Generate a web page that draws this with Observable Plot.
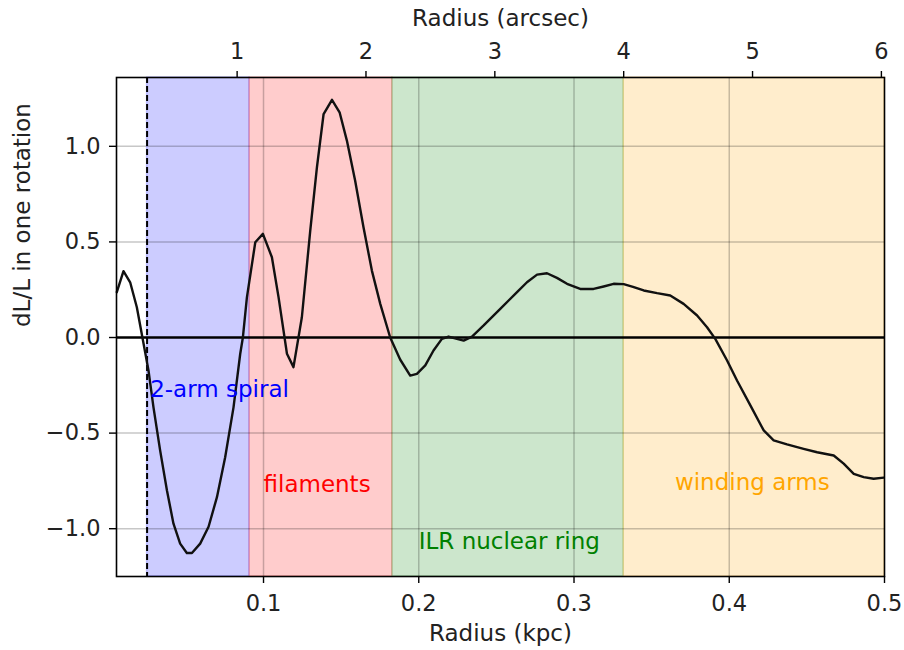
<!DOCTYPE html>
<html>
<head>
<meta charset="utf-8">
<script src="https://cdn.jsdelivr.net/npm/d3@7"></script>
<script src="https://cdn.jsdelivr.net/npm/@observablehq/plot@0.6"></script>
<style>
  html, body { margin: 0; padding: 0; background: #fff; }
  #chart { width: 904px; height: 650px; }
  #chart svg { display: block; }
</style>
</head>
<body>
<div id="chart"></div>
<script>
// Fractional change of angular momentum in one rotation versus radius
const radiusKpc = [
  0.0055, 0.0098, 0.0141, 0.0184, 0.0220, 0.0259, 0.0291, 0.0334, 0.0378, 0.0420,
  0.0463, 0.0506, 0.0539, 0.0592, 0.0646, 0.0700, 0.0753, 0.0807, 0.0850, 0.0867,
  0.0893, 0.0947, 0.0996, 0.1054, 0.1097, 0.1151, 0.1193, 0.1247, 0.1301, 0.1344,
  0.1387, 0.1441, 0.1490, 0.1537, 0.1590, 0.1644, 0.1698, 0.1752, 0.1816, 0.1880,
  0.1945, 0.1988, 0.2042, 0.2095, 0.2149, 0.2192, 0.2246, 0.2289, 0.2343, 0.2418,
  0.2525, 0.2633, 0.2697, 0.2762, 0.2826, 0.2890, 0.2955, 0.3040, 0.3126, 0.3191,
  0.3255, 0.3320, 0.3380, 0.3449, 0.3535, 0.3620, 0.3706, 0.3793, 0.3857, 0.3910,
  0.3986, 0.4050, 0.4136, 0.4222, 0.4286, 0.4372, 0.4479, 0.4566, 0.4673, 0.4737,
  0.4802, 0.4866, 0.4930, 0.4995
];
const dLoverL = [
  0.237, 0.347, 0.289, 0.158, 0.000, -0.172, -0.364, -0.590, -0.800, -0.974,
  -1.078, -1.127, -1.127, -1.078, -0.990, -0.835, -0.626, -0.364, -0.085, 0.000,
  0.210, 0.498, 0.542, 0.420, 0.210, -0.085, -0.155, 0.106, 0.559, 0.890,
  1.169, 1.243, 1.178, 1.030, 0.821, 0.577, 0.350, 0.176, 0.000, -0.115,
  -0.199, -0.190, -0.146, -0.068, -0.007, 0.005, -0.007, -0.016, 0.005, 0.063,
  0.150, 0.237, 0.289, 0.329, 0.336, 0.312, 0.281, 0.254, 0.254, 0.267,
  0.281, 0.279, 0.265, 0.246, 0.232, 0.220, 0.176, 0.115, 0.054, -0.007,
  -0.120, -0.225, -0.355, -0.486, -0.538, -0.559, -0.582, -0.600, -0.617, -0.660,
  -0.713, -0.730, -0.739, -0.733
];

// Morphological regions
const regionNames  = ["2-arm spiral", "filaments", "ILR nuclear ring", "winding arms"];
const regionStart  = [0.025, 0.091, 0.183, 0.332];
const regionEnd    = [0.091, 0.183, 0.332, 0.500];
const regionLabelX = [0.027, 0.100, 0.200, 0.365];
const regionLabelY = [-0.27, -0.77, -1.07, -0.76];
const regionColors = ["blue", "red", "green", "orange"];

// Inner resolution limit (dashed line)
const innerLimitKpc = 0.025;

// Axes
const kpcTicks = [0.1, 0.2, 0.3, 0.4, 0.5];
const arcsecTicks = [1, 2, 3, 4, 5, 6];
const yTicks = [-1.0, -0.5, 0.0, 0.5, 1.0];
const kpcPerArcsec = 0.083;
const xDomain = [0.0053, 0.5];
const yDomain = [-1.25, 1.36];

const profile = radiusKpc.map((r, i) => ({r, v: dLoverL[i]}));
const regions = regionNames.map((name, i) => ({
  name, start: regionStart[i], end: regionEnd[i],
  lx: regionLabelX[i], ly: regionLabelY[i], color: regionColors[i]
}));

const font = "DejaVu Sans, Liberation Sans, sans-serif";
const fs = 23;
const tickFs = 22.5;

const marks = [];

// shaded regions
for (const reg of regions) {
  marks.push(Plot.rect([reg], {
    x1: "start", x2: "end",
    fill: reg.color, fillOpacity: 0.2,
    stroke: reg.color, strokeOpacity: 0.2, strokeWidth: 1.5
  }));
}

// grid
marks.push(Plot.gridX(kpcTicks.slice(0, 4), {stroke: "#000", strokeOpacity: 0.22, strokeWidth: 1.5}));
marks.push(Plot.gridY(yTicks.filter(d => d !== 0), {stroke: "#000", strokeOpacity: 0.22, strokeWidth: 1.5}));

// zero line
marks.push(Plot.ruleY([0], {stroke: "#000", strokeWidth: 2.5}));

// inner limit
marks.push(Plot.ruleX([innerLimitKpc], {stroke: "#000", strokeWidth: 2, strokeDasharray: "6,3"}));

// profile curve
marks.push(Plot.line(profile, {x: "r", y: "v", stroke: "#111", strokeWidth: 2.4}));

// region labels
for (const reg of regions) {
  marks.push(Plot.text([reg], {
    x: "lx", y: "ly", text: "name", fill: reg.color,
    textAnchor: "start", lineAnchor: "middle", fontSize: fs
  }));
}

// frame
marks.push(Plot.frame({stroke: "#000", strokeWidth: 1.6}));

// axes
marks.push(Plot.axisX(kpcTicks, {
  anchor: "bottom", tickSize: 7, tickPadding: 12, label: null,
  tickFormat: d3.format(".1f"), fontSize: tickFs, stroke: "#000", strokeWidth: 1.4
}));
marks.push(Plot.axisX(arcsecTicks.map(a => a * kpcPerArcsec), {
  anchor: "top", tickSize: 7, tickPadding: 12, label: null,
  tickFormat: d => String(Math.round(d / kpcPerArcsec)), fontSize: tickFs, stroke: "#000", strokeWidth: 1.4
}));
marks.push(Plot.axisY(yTicks, {
  anchor: "left", tickSize: 7, tickPadding: 9, label: null,
  tickFormat: d3.format(".1f"), fontSize: tickFs, stroke: "#000", strokeWidth: 1.4
}));

// axis titles
marks.push(Plot.text(["Radius (kpc)"], {frameAnchor: "bottom", dy: 57, lineAnchor: "middle", fontSize: fs, fill: "#222"}));
marks.push(Plot.text(["Radius (arcsec)"], {frameAnchor: "top", dy: -59, lineAnchor: "middle", fontSize: fs, fill: "#222"}));
marks.push(Plot.text(["dL/L in one rotation"], {frameAnchor: "left", dx: -94, rotate: -90, lineAnchor: "middle", fontSize: fs, fill: "#222"}));

const chart = Plot.plot({
  width: 904,
  height: 650,
  marginLeft: 116,
  marginRight: 20,
  marginTop: 77,
  marginBottom: 74,
  style: {fontFamily: font, fontSize: fs + "px", color: "#222", background: "#fff"},
  x: {domain: xDomain, axis: null},
  y: {domain: yDomain, axis: null},
  marks
});
document.getElementById("chart").appendChild(chart);
</script>
</body>
</html>
